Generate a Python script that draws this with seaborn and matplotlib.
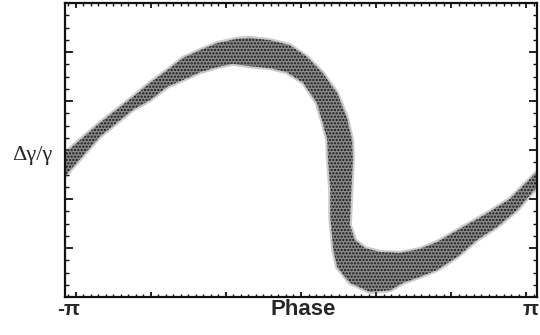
import matplotlib
matplotlib.use("Agg")
import matplotlib.pyplot as plt
from matplotlib.ticker import MultipleLocator
import numpy as np
import pandas as pd
import seaborn as sns

# Outer edge of the particle band (phase in rad, relative energy offset)
upper_phase = [-3.14, -2.68, -2.24, -2.01, -1.78, -1.57, -1.34, -1.12, -0.85, -0.68,
               -0.41, -0.15, 0.08, 0.29, 0.48, 0.61, 0.68, 0.69, 0.67, 0.65,
               0.72, 0.85, 1.05, 1.32, 1.58, 1.81, 2.16, 2.48, 2.78, 3.14]
upper_dg = [-0.06, 0.55, 1.08, 1.37, 1.63, 1.88, 2.04, 2.18, 2.27, 2.29,
            2.24, 2.14, 1.90, 1.57, 1.16, 0.67, 0.20, -0.20, -0.82, -1.53,
            -1.84, -2.00, -2.08, -2.10, -2.02, -1.88, -1.57, -1.29, -1.00, -0.45]

# Inner edge of the particle band
lower_phase = [-3.14, -2.68, -2.24, -2.01, -1.78, -1.57, -1.34, -1.12, -0.91, -0.68,
               -0.41, -0.19, 0.03, 0.21, 0.29, 0.35, 0.36, 0.39, 0.39, 0.43,
               0.48, 0.65, 0.92, 1.19, 1.36, 1.58, 1.81, 2.08, 2.34, 2.61,
               2.88, 3.14]
lower_dg = [-0.53, 0.27, 0.82, 1.02, 1.29, 1.43, 1.59, 1.69, 1.76, 1.71,
            1.67, 1.59, 1.37, 0.96, 0.55, 0.20, -0.20, -0.82, -1.37, -2.04,
            -2.39, -2.71, -2.90, -2.86, -2.71, -2.59, -2.45, -2.18, -1.84, -1.57,
            -1.22, -0.76]

sns.set_style("ticks")
plt.rcParams["hatch.linewidth"] = 1.1

fig = plt.figure(figsize=(5.4, 3.35), dpi=100)
ax = fig.add_axes([65 / 540, 38 / 335, 472 / 540, 294 / 335])

band_x = upper_phase + lower_phase[::-1]
band_y = upper_dg + lower_dg[::-1]

# soft, scattered-looking rim around the band
edges = pd.concat([
    pd.DataFrame({"phase": upper_phase, "dg": upper_dg, "edge": "outer"}),
    pd.DataFrame({"phase": lower_phase, "dg": lower_dg, "edge": "inner"}),
])
sns.lineplot(data=edges, x="phase", y="dg", units="edge", estimator=None,
             sort=False, color="#6a6a6a", linewidth=3.0, alpha=0.35, ax=ax, zorder=2)

# stippled band body
ax.fill(band_x, band_y, facecolor="#8a8a8a", edgecolor="#151515",
        hatch=".....", linewidth=0, zorder=3)

ax.set_xlim(-np.pi, np.pi)
ax.set_ylim(-3, 3)
ax.xaxis.set_major_locator(MultipleLocator(1))
ax.xaxis.set_minor_locator(MultipleLocator(0.1))
ax.yaxis.set_major_locator(MultipleLocator(1))
ax.yaxis.set_minor_locator(MultipleLocator(0.25))
ax.tick_params(which="both", direction="in", top=True, right=True,
               labelbottom=False, labelleft=False, color="#111111")
ax.tick_params(axis="x", which="major", length=3.8, width=1.3)
ax.tick_params(axis="x", which="minor", length=2.0, width=1.0)
ax.tick_params(axis="y", which="major", length=6.0, width=1.3)
ax.tick_params(axis="y", which="minor", length=3.0, width=1.0)
ax.set_xlabel("")
ax.set_ylabel("")
for sp in ax.spines.values():
    sp.set_linewidth(1.6)
    sp.set_color("#111111")
    sp.set_zorder(5)

base = (335 - 315) / 335
fig.text(69 / 540, base, "-π", ha="center", va="baseline", fontsize=15,
         fontweight="bold", family="Liberation Sans")
fig.text(303 / 540, base, "Phase", ha="center", va="baseline", fontsize=16,
         fontweight="bold", family="Liberation Sans")
fig.text(531 / 540, base, "π", ha="center", va="baseline", fontsize=15,
         fontweight="bold", family="Liberation Sans")
fig.text(32 / 540, (335 - 160) / 335, "Δγ/γ", ha="center", va="baseline",
         fontsize=16, family="Liberation Serif")

fig.savefig("out.png", dpi=100)
